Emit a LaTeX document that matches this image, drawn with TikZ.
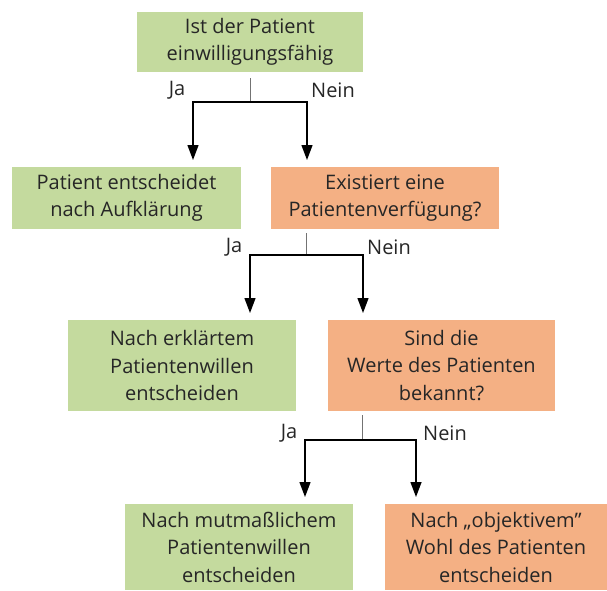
\documentclass[tikz,border=0pt]{standalone}
\usepackage{fontspec}
\setmainfont{Open Sans}
\usetikzlibrary{arrows.meta}

\definecolor{jagreen}{HTML}{C4DA9E}
\definecolor{neinorange}{HTML}{F4B084}

\tikzset{
  box/.style={inner sep=0pt, align=center, text=black!85,
    font=\fontsize{20}{27.5}\selectfont},
  yesbox/.style={box, fill=jagreen},
  nobox/.style={box, fill=neinorange},
  stem/.style={draw=black!55, line width=1pt},
  arr/.style={line width=1.3pt, -{Triangle[width=11pt,length=15pt]}},
  lbl/.style={inner sep=0pt, text=black!85, font=\fontsize{20}{24}\selectfont}
}

\begin{document}
\begin{tikzpicture}[x=1pt,y=-1pt]
  \useasboundingbox (0,0) rectangle (607,590);

  % boxes
  \node[yesbox, minimum width=226pt, minimum height=60pt] (q1) at (250,42) {Ist der Patient\\einwilligungsfähig};
  \node[yesbox, minimum width=229pt, minimum height=62pt] (a1) at (126.5,198) {Patient entscheidet\\nach Aufklärung};
  \node[nobox, minimum width=228pt, minimum height=62pt] (q2) at (385,198) {Existiert eine\\Patientenverfügung?};
  \node[yesbox, minimum width=228pt, minimum height=91pt] (a2) at (182,365.5) {Nach erklärtem\\Patientenwillen\\entscheiden};
  \node[nobox, minimum width=227pt, minimum height=91pt] (q3) at (441.5,365.5) {Sind die\\Werte des Patienten\\bekannt?};
  \node[yesbox, minimum width=228pt, minimum height=86pt] (a3) at (239,547) {Nach mutmaßlichem\\Patientenwillen\\entscheiden};
  \node[nobox, minimum width=222pt, minimum height=86pt] (a4) at (496,547) {Nach „objektivem”\\Wohl des Patienten\\entscheiden};

  % branch points and arrow ends
  \coordinate (j1) at (250,102);
  \coordinate (t1a) at (193,160);
  \coordinate (t1b) at (307,160);
  \coordinate (j2) at (306,255);
  \coordinate (t2a) at (250,313);
  \coordinate (t2b) at (363,313);
  \coordinate (j3) at (362,440);
  \coordinate (t3a) at (305,497);
  \coordinate (t3b) at (416,497);

  \draw[stem] ([yshift=-6pt]q1.south) -- (j1);
  \draw[arr] (j1) -| (t1a);
  \draw[arr] (j1) -| (t1b);
  \draw[stem] ([yshift=-4pt]q2.south -| j2) -- (j2);
  \draw[arr] (j2) -| (t2a);
  \draw[arr] (j2) -| (t2b);
  \draw[stem] ([yshift=-4pt]q3.south -| j3) -- (j3);
  \draw[arr] (j3) -| (t3a);
  \draw[arr] (j3) -| (t3b);

  % labels
  \node[lbl] (ja1) at (177,90) {Ja};
  \node[lbl] (nein1) at (333,90) {Nein};
  \node[lbl] (ja2) at (234,247) {Ja};
  \node[lbl] (nein2) at (389,247) {Nein};
  \node[lbl] (ja3) at (289,433) {Ja};
  \node[lbl] (nein3) at (445,433) {Nein};
\end{tikzpicture}
\end{document}
